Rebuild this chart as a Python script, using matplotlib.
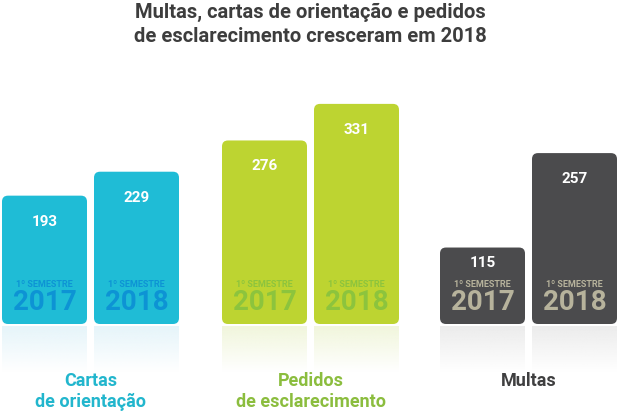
import numpy as np
import matplotlib
matplotlib.use('Agg')
from matplotlib import pyplot as plt
from matplotlib.patches import FancyBboxPatch
from matplotlib.colors import to_rgb

plt.rcParams['font.family'] = ['Roboto', 'DejaVu Sans']

# data
categories = ['Cartas\nde orientação', 'Pedidos\nde esclarecimento', 'Multas']
values_2017 = [193, 276, 115]
values_2018 = [229, 331, 257]
years = ['2017', '2018']
semester_label = '1º SEMESTRE'
title = 'Multas, cartas de orientação e pedidos\nde esclarecimento cresceram em 2018'

# styles
bar_colors = ['#1fbcd6', '#bdd431', '#4b4b4d']
inner_colors = ['#0d93d4', '#8cc43d', '#b7b39c']
label_colors = ['#22b6cd', '#8bbd3e', '#3f3f40']
reflect_colors = ['#e6f5fa', '#f1f6dc', '#ececec']

group_left = [2, 222, 440]
bar_width = 85
bar_gap = 7
px_per_unit = 0.665  # vertical pixels per value unit
base_px = 324
fig_w, fig_h = 625, 415

fig = plt.figure(figsize=(fig_w / 100, fig_h / 100), dpi=100)
ax = fig.add_axes([0, 0, 1, 1])
ax.set_xlim(0, fig_w)
ax.set_ylim(-(fig_h - base_px) / px_per_unit, base_px / px_per_unit)
ax.axis('off')

aspect = 1 / px_per_unit
refl_depth = 48 / px_per_unit

for i, cat in enumerate(categories):
    for j, vals in enumerate([values_2017, values_2018]):
        v = vals[i]
        x0 = group_left[i] + j * (bar_width + bar_gap)
        box = FancyBboxPatch(
            (x0 + 4, 4 * aspect), bar_width - 8, v - 8 * aspect,
            boxstyle='round,pad=4,rounding_size=6',
            mutation_aspect=aspect,
            facecolor=bar_colors[i], edgecolor='none', zorder=3,
        )
        ax.add_patch(box)

        # fading reflection under the bar
        rgb = np.array(to_rgb(reflect_colors[i]))
        grad = np.linspace(1, 0, 64)[:, None]
        img = np.ones((64, 1, 4))
        img[:, :, :3] = rgb
        img[:, :, 3] = grad
        ax.imshow(img, extent=(x0, x0 + bar_width, -refl_depth, -3 * aspect),
                  aspect='auto', zorder=1, interpolation='bilinear')

        cx = x0 + bar_width / 2
        label_y = v - 39 if v - 39 > 100 else v - 23
        ax.text(cx, label_y, str(v), color='white', fontsize=11,
                fontweight='bold', ha='center', va='center', zorder=4)
        ax.text(cx, 60, semester_label, color=inner_colors[i], fontsize=6.5,
                fontweight='bold', ha='center', va='center', zorder=4)
        ax.text(cx, 33, years[j], color=inner_colors[i], fontsize=20,
                fontweight='bold', ha='center', va='center', zorder=4)

    gx = group_left[i] + bar_width + bar_gap / 2
    ax.text(gx, -(372 - base_px) / px_per_unit, cat, color=label_colors[i],
            fontsize=13, fontweight='bold', ha='center', va='top',
            linespacing=1.2)

fig.text(310 / fig_w, 1 - 3 / fig_h, title, color='#3d3d3d', fontsize=14.5,
         fontweight='bold', ha='center', va='top', linespacing=1.35)

plt.savefig('out.png', dpi=100)
